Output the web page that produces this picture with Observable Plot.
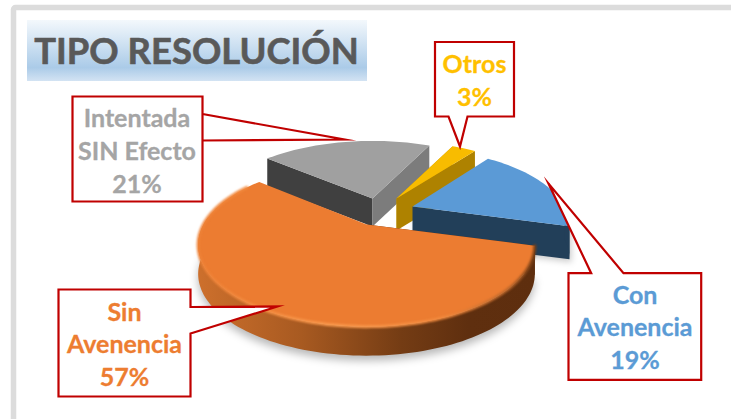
<!DOCTYPE html>
<html>
<head>
<meta charset="utf-8">
<script src="https://cdn.jsdelivr.net/npm/d3@7"></script>
<script src="https://cdn.jsdelivr.net/npm/@observablehq/plot@0.6"></script>
<style>html,body{margin:0;padding:0;background:#fff;overflow:hidden}svg{display:block}</style>
</head>
<body>
<script>
// ---- data ----
const categories = ["Sin Avenencia", "Intentada SIN Efecto", "Otros", "Con Avenencia"];
const percents = [57, 21, 3, 19];
const labelLines = [["Sin", "Avenencia"], ["Intentada", "SIN Efecto"], ["Otros"], ["Con", "Avenencia"]];
const labelColors = ["#ED7D31", "#A5A5A5", "#FFC000", "#5B9BD5"];
const titleText = "TIPO RESOLUCIÓN";

// ---- 3D view layout ----
const W = 731, H = 419;
const startDeg = 15, persp = 0.25;
const tilts = [0.47, 0.45, 0.45, 0.47];
const depths = [29, 28, 32, 33];
const apexes = [[366, 224], [372, 198], [396, 198], [412, 206]];
const radii = [163, 160, 158, 152];
const callouts = [
  {box: [58, 289, 190, 396], ptr: [[190, 333], [277, 306], [190, 306.5]], label: [124, 342.5]},
  {box: [72, 96, 202, 201], ptr: [[202, 113.5], [344, 139], [202, 140]], label: [136.5, 149]},
  {box: [434.5, 41.5, 513.5, 116], ptr: [[467, 116], [459.5, 146], [448, 116]], label: [474, 78.5]},
  {box: [568, 272.7, 700.7, 379.3], ptr: [[623, 272.7], [548, 183], [590.7, 272.7]], label: [634.5, 325.5]}
];

const arcs = d3.pie().sort(null).startAngle(startDeg * Math.PI / 180)
  .endAngle((startDeg + 360) * Math.PI / 180)(percents);

function project(i, a, r, drop) {
  const u = r * Math.cos(a), v = r * Math.sin(a);
  const s = 1 / (1 - persp * v / radii[i]);
  return {x: apexes[i][0] + u * s, y: apexes[i][1] + v * s * tilts[i] + (drop ? depths[i] : 0)};
}
function arcPts(i, a0, a1, drop) {
  const n = Math.max(2, Math.ceil(Math.abs(a1 - a0) / 0.03));
  return d3.range(n + 1).map(k => project(i, a0 + (a1 - a0) * k / n, radii[i], drop));
}
const face = (pts, fill, extra = {}) =>
  Plot.line(pts, {x: "x", y: "y", curve: "linear-closed", fill, stroke: "none", ...extra});
const topFace = i => {
  const {startAngle: a0, endAngle: a1} = arcs[i];
  return [{x: apexes[i][0], y: apexes[i][1]}, ...arcPts(i, a0, a1, false)];
};
const wall = (i, a) => {
  const p = project(i, a, radii[i], false), q = project(i, a, radii[i], true);
  const ax = apexes[i][0], ay = apexes[i][1];
  return [{x: ax, y: ay}, p, q, {x: ax, y: ay + depths[i]}];
};
const rimSide = (i, a0, a1) => [...arcPts(i, a0, a1, false), ...arcPts(i, a1, a0, true)];

const [O, G, Y, B] = [0, 1, 2, 3];
const aO0 = arcs[O].startAngle, aO1 = arcs[O].endAngle;
const aB1 = arcs[B].endAngle;

const defsMark = () => {
  const d = document.createElementNS("http://www.w3.org/2000/svg", "defs");
  d.innerHTML = `
  <linearGradient id="titleG" x1="0" y1="0" x2="0" y2="1">
    <stop offset="0" stop-color="#f3f8fc"/><stop offset=".78" stop-color="#abcbe8"/><stop offset="1" stop-color="#d3e3f3"/>
  </linearGradient>
  <linearGradient id="sideO" gradientUnits="userSpaceOnUse" x1="200" y1="0" x2="535" y2="0">
    <stop offset="0" stop-color="#cc6f2c"/><stop offset=".3" stop-color="#a85a21"/>
    <stop offset=".6" stop-color="#743c14"/><stop offset=".8" stop-color="#5f2f0f"/><stop offset="1" stop-color="#5e2e0e"/>
  </linearGradient>
  <linearGradient id="rimO" gradientUnits="userSpaceOnUse" x1="200" y1="0" x2="535" y2="0">
    <stop offset="0" stop-color="#ee8237"/><stop offset=".4" stop-color="#fa9a4e"/>
    <stop offset=".72" stop-color="#f28a3e"/><stop offset=".92" stop-color="#b9652a"/><stop offset="1" stop-color="#7a4016"/>
  </linearGradient>`;
  return d;
};

const calloutPolys = callouts.map(c => {
  const [x1, y1, x2, y2] = c.box;
  const corners = [[x1, y1], [x2, y1], [x2, y2], [x1, y2]];
  const p = c.ptr;
  let seq;
  if (p[0][0] === x2) seq = [corners[0], corners[1], p[2], p[1], p[0], corners[2], corners[3]];
  else if (p[0][1] === y2) seq = [corners[0], corners[1], corners[2], p[0], p[1], p[2], corners[3]];
  else seq = [corners[0], p[2], p[1], p[0], corners[1], corners[2], corners[3]];
  return seq.map(([x, y]) => ({x, y}));
});

const labelRows = categories.map((c, i) => ({
  text: [...labelLines[i], percents[i] + "%"].join("\n"),
  x: callouts[i].label[0], y: callouts[i].label[1], color: labelColors[i]
}));

const calloutMarks = calloutPolys.map(p => face(p, "#fff", {
  stroke: "#C00000", strokeWidth: 2.2, strokeLinejoin: "miter", strokeMiterlimit: 20
}));

const chart = Plot.plot({
  width: W, height: H, margin: 0,
  x: {domain: [0, W], range: [0, W], axis: null},
  y: {domain: [0, H], range: [0, H], axis: null},
  style: {background: "#fff", fontFamily: "Lato"},
  marks: [
    defsMark,
    Plot.rect([{x1: 13.5, y1: 7.5, x2: 790, y2: 480}], {x1: "x1", x2: "x2", y1: "y1", y2: "y2", fill: "none", stroke: "#DCDCDC", strokeWidth: 5.5, rx: 2}),
    Plot.rect([{x1: 27, y1: 20, x2: 367, y2: 81}], {x1: "x1", x2: "x2", y1: "y1", y2: "y2", fill: "url(#titleG)"}),
    Plot.text([titleText], {x: () => 196, y: () => 52, text: d => d, fontSize: 36.4, fontWeight: 700, fontFamily: "Lato", fill: "#595959", stroke: "#595959", strokeWidth: 0.6, textAnchor: "middle"}),
    face(arcPts(O, aO0, aO1 - 0.6, true).map(p => ({x: p.x, y: p.y + 5})), "#000", {fillOpacity: 0.28, imageFilter: "blur(4px)"}),
    face(wall(B, aB1 - 2 * Math.PI).map(p => ({x: p.x + 2, y: p.y + 3})), "#000", {fillOpacity: 0.2, imageFilter: "blur(3px)"}),
    face(wall(G, arcs[G].startAngle), "#404040"),
    face(wall(G, arcs[G].endAngle), "#7C7C7C"),
    face(topFace(G), "#A0A0A0"),
    face(wall(Y, arcs[Y].startAngle), "#C69500"),
    face(wall(Y, arcs[Y].endAngle), "#AE8200"),
    face(topFace(Y), "#F8BC00"),
    face(wall(B, aB1), "#223F59"),
    face(rimSide(B, 2 * Math.PI, aB1), "#223F59"),
    face(topFace(B), "#5B9AD6"),
    face(wall(O, aO0), "#5E2E0E"),
    face(rimSide(O, aO0, Math.PI + 0.1), "url(#sideO)"),
    face(topFace(O), "#EC7C31"),
    Plot.line(arcPts(O, aO0, aO1 - 0.12, false), {x: "x", y: "y", stroke: "url(#rimO)", strokeWidth: 3, imageFilter: "blur(1.2px)"}),
    ...calloutMarks,
    Plot.text(labelRows, {x: "x", y: "y", text: "text", fill: "color", stroke: "color", strokeWidth: 0.3, fontSize: 25, lineHeight: 1.31, lineAnchor: "middle", fontWeight: 700, fontFamily: "Lato", textAnchor: "middle"})
  ]
});
document.body.appendChild(chart);
</script>
</body>
</html>
